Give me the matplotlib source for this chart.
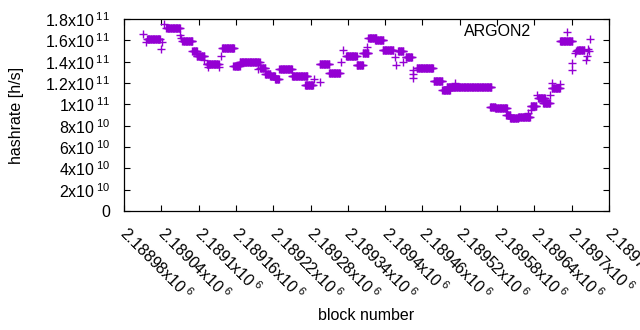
import numpy as np
import matplotlib
matplotlib.use("Agg")
import matplotlib.pyplot as plt
from matplotlib.ticker import FixedLocator, FuncFormatter
from matplotlib.transforms import ScaledTranslation

plt.rcParams['font.family'] = ['Liberation Sans', 'DejaVu Sans']
plt.rcParams['mathtext.fontset'] = 'custom'
plt.rcParams['mathtext.rm'] = 'Liberation Sans'
plt.rcParams['mathtext.it'] = 'Liberation Sans'
plt.rcParams['font.size'] = 11.5

# runs of blocks with constant hashrate (first block, last block, h/s)
run_start = [2189017, 2189048, 2189074, 2189090, 2189097, 2189113, 2189138, 2189156,
             2189166, 2189199, 2189207, 2189215, 2189223, 2189230, 2189250, 2189271,
             2189295, 2189310, 2189337, 2189354, 2189364, 2189373, 2189384, 2189396,
             2189421, 2189433, 2189451, 2189478, 2189492, 2189499, 2189518, 2189569,
             2189577, 2189595, 2189601, 2189614, 2189634, 2189646, 2189654, 2189668,
             2189681, 2189709]
run_end = [2189038, 2189070, 2189090, 2189097, 2189109, 2189132, 2189157, 2189166,
           2189198, 2189207, 2189215, 2189223, 2189229, 2189250, 2189275, 2189284,
           2189310, 2189327, 2189354, 2189364, 2189373, 2189386, 2189397, 2189413,
           2189429, 2189443, 2189477, 2189492, 2189504, 2189517, 2189571, 2189577,
           2189596, 2189601, 2189614, 2189633, 2189643, 2189657, 2189665, 2189681,
           2189701, 2189720]
run_rate = [1.61e11, 1.713e11, 1.59e11, 1.50e11, 1.453e11, 1.381e11, 1.525e11, 1.36e11,
            1.397e11, 1.34e11, 1.28e11, 1.27e11, 1.24e11, 1.334e11, 1.263e11, 1.18e11,
            1.375e11, 1.297e11, 1.45e11, 1.366e11, 1.478e11, 1.62e11, 1.60e11, 1.506e11,
            1.497e11, 1.44e11, 1.34e11, 1.22e11, 1.134e11, 1.16e11, 1.163e11, 9.75e10,
            9.66e10, 9.0e10, 8.72e10, 8.84e10, 9.8e10, 1.06e11, 1.01e11, 1.153e11,
            1.594e11, 1.512e11]

# isolated blocks
single_block = [2189011, 2189015, 2189041, 2189039, 2189044, 2189070, 2189072, 2189109,
                2189115, 2189133, 2189136, 2189196, 2189286, 2189295, 2189329, 2189333,
                2189370, 2189416, 2189418, 2189429, 2189445, 2189445, 2189445, 2189512,
                2189630, 2189635, 2189644, 2189665, 2189669, 2189681, 2189693, 2189701,
                2189701, 2189705, 2189707, 2189723, 2189725, 2189727, 2189728, 2189730]
single_rate = [1.657e11, 1.58e11, 1.584e11, 1.516e11, 1.75e11, 1.65e11, 1.62e11, 1.42e11,
               1.35e11, 1.35e11, 1.453e11, 1.33e11, 1.24e11, 1.21e11, 1.40e11, 1.51e11,
               1.54e11, 1.44e11, 1.37e11, 1.40e11, 1.32e11, 1.25e11, 1.28e11, 1.20e11,
               9.2e10, 9.5e10, 1.09e11, 1.09e11, 1.20e11, 1.19e11, 1.675e11, 1.32e11,
               1.385e11, 1.48e11, 1.50e11, 1.416e11, 1.45e11, 1.516e11, 1.50e11, 1.61e11]

blocks = []
rates = []
for s, e, r in zip(run_start, run_end, run_rate):
    for b in range(s, e + 1):
        blocks.append(b)
        rates.append(r)
blocks += single_block
rates += single_rate

xticks = [2188980 + 60 * i for i in range(14)]
yticks = [2e10 * i for i in range(10)]


def sci(v, pos=None):
    if v == 0:
        return "0"
    e = int(np.floor(np.log10(abs(v)) + 1e-9))
    m = v / 10 ** e
    return "%sx10$^{\\;%d}$" % (("%.6g" % m), e)


fig = plt.figure(figsize=(6.4, 3.3), dpi=100)
ax = fig.add_axes([124 / 640, 1 - 211 / 330, 485 / 640, 192 / 330])
ax.plot(blocks, rates, linestyle='none', marker='+', markersize=5.5,
        markeredgewidth=1.0, color='#9400d3')

ax.set_xlim(2188980, 2189760)
ax.set_ylim(0, 1.8e11)
ax.xaxis.set_major_locator(FixedLocator(xticks))
ax.yaxis.set_major_locator(FixedLocator(yticks))
ax.xaxis.set_major_formatter(FuncFormatter(sci))
ax.yaxis.set_major_formatter(FuncFormatter(sci))
ax.tick_params(direction='in', length=4.5, width=0.8, top=True, right=True,
               colors='black', labelsize=11.5)
ax.tick_params(axis='y', pad=10)
ax.tick_params(axis='x', pad=9)
shift = ScaledTranslation(6 / 100, 0, fig.dpi_scale_trans)
for lab in ax.get_xticklabels():
    lab.set_rotation(-45)
    lab.set_ha('left')
    lab.set_va('top')
    lab.set_rotation_mode('anchor')
    lab.set_transform(lab.get_transform() + shift)
for sp in ax.spines.values():
    sp.set_linewidth(0.9)

ax.text((531 - 124) / 485, (211 - 32) / 192, 'ARGON2', transform=ax.transAxes,
        ha='right', va='center', fontsize=11.5)
fig.text(17 / 640, 1 - 115 / 330, 'hashrate [h/s]', rotation=90,
         ha='center', va='center', fontsize=11.5)
fig.text(366 / 640, 1 - 315 / 330, 'block number', ha='center', va='center',
         fontsize=11.5)

fig.savefig('out.png', dpi=100)
